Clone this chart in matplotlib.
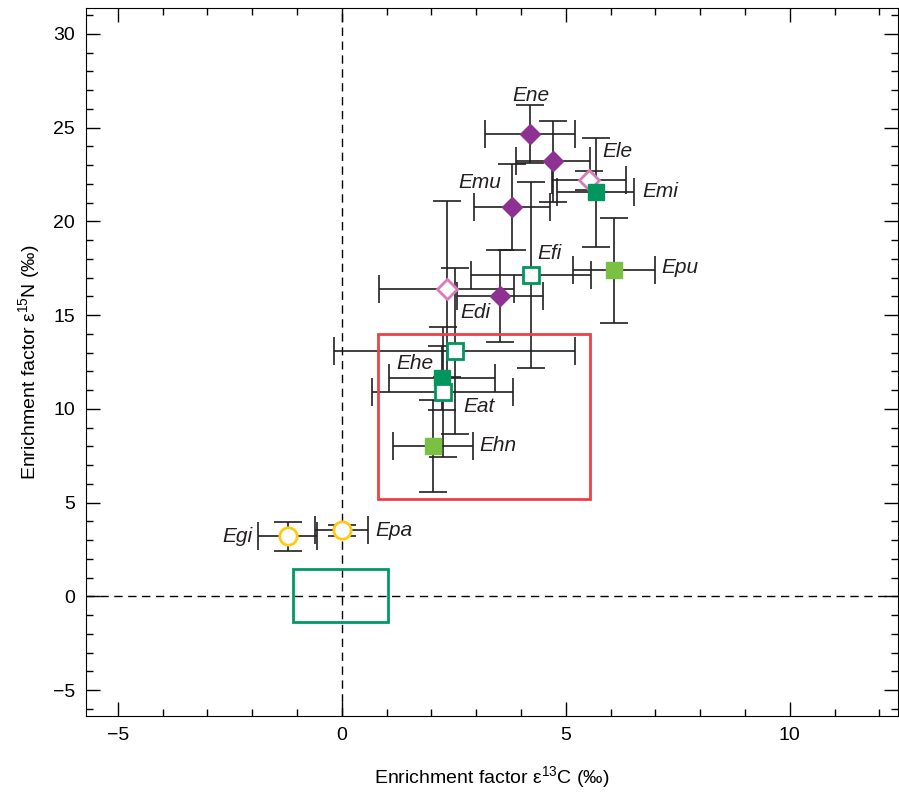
import matplotlib
matplotlib.use("Agg")
import matplotlib.pyplot as plt
from matplotlib.patches import Rectangle
from matplotlib.ticker import MultipleLocator

plt.rcParams['font.family'] = ['Liberation Sans', 'DejaVu Sans']
plt.rcParams['mathtext.fontset'] = 'custom'
plt.rcParams['mathtext.rm'] = 'Liberation Sans'
plt.rcParams['mathtext.it'] = 'Liberation Sans:italic'

# data: enrichment factors (per mil) with errors
purple_x = [4.20, 4.71, 3.79, 3.53]
purple_y = [24.65, 23.2, 20.76, 16.0]
purple_xerr = [1.0, 0.82, 0.85, 0.96]
purple_yerr = [1.55, 2.15, 2.3, 2.45]

pink_x = [5.51, 2.34]
pink_y = [22.2, 16.4]
pink_xerr = [0.83, 1.5]
pink_yerr = [0.5, 4.7]

dkgreen_x = [5.67, 2.23]
dkgreen_y = [21.56, 11.63]
dkgreen_xerr = [0.86, 1.18]
dkgreen_yerr = [2.9, 1.7]

open_green_x = [4.22, 2.52, 2.25]
open_green_y = [17.13, 13.07, 10.9]
open_green_xerr = [1.34, 2.69, 1.57]
open_green_yerr = [4.95, 4.43, 3.45]

ltgreen_x = [6.07, 2.03]
ltgreen_y = [17.4, 8.0]
ltgreen_xerr = [0.92, 0.89]
ltgreen_yerr = [2.8, 2.45]

yellow_x = [-1.21, 0.0]
yellow_y = [3.2, 3.52]
yellow_xerr = [0.66, 0.59]
yellow_yerr = [0.77, 0.3]

labels = ['Ene', 'Ele', 'Emi', 'Emu', 'Efi', 'Epu', 'Edi', 'Ehe', 'Eat', 'Ehn', 'Egi', 'Epa']
label_x = [4.22, 6.14, 7.1, 3.08, 4.64, 7.54, 2.99, 1.63, 3.06, 3.48, -2.32, 1.16]
label_y = [26.7, 23.75, 21.6, 22.1, 18.3, 17.55, 15.15, 12.43, 10.1, 8.06, 3.2, 3.52]

# boxes (x0, x1, y0, y1)
red_box = [0.8, 5.55, 5.2, 14.0]
green_box = [-1.08, 1.03, -1.38, 1.45]

fig = plt.figure(figsize=(8.99, 7.93), dpi=100)
ax = fig.add_axes([0.0957, 0.097, 0.903, 0.893])

ax.axvline(0, color='black', lw=1, ls=(0, (6, 4)), zorder=1)
ax.axhline(0, color='black', lw=1, ls=(0, (6, 4)), zorder=1)

ax.add_patch(Rectangle((red_box[0], red_box[2]), red_box[1] - red_box[0], red_box[3] - red_box[2],
                       fill=False, edgecolor='#EF4048', lw=2, zorder=4))
ax.add_patch(Rectangle((green_box[0], green_box[2]), green_box[1] - green_box[0], green_box[3] - green_box[2],
                       fill=False, edgecolor='#009966', lw=2, zorder=4))


def draw(xs, ys, xe, ye, marker, ms, face, edge, mew=1):
    ax.errorbar(xs, ys, xerr=xe, yerr=ye, fmt='none', ecolor='#231F20', elinewidth=1.2,
                capsize=10, capthick=1.2, zorder=2)
    ax.plot(xs, ys, ls='none', marker=marker, ms=ms, mfc=face, mec=edge, mew=mew, zorder=3)


draw(purple_x, purple_y, purple_xerr, purple_yerr, 'D', 10.5, '#8E3192', '#8E3192')
draw(pink_x, pink_y, pink_xerr, pink_yerr, 'D', 10.5, 'white', '#D57DB7', 2)
draw(dkgreen_x, dkgreen_y, dkgreen_xerr, dkgreen_yerr, 's', 11, '#00965E', '#00965E')
draw(open_green_x, open_green_y, open_green_xerr, open_green_yerr, 's', 11, 'white', '#00965E', 2)
draw(ltgreen_x, ltgreen_y, ltgreen_xerr, ltgreen_yerr, 's', 11, '#7AC143', '#7AC143')
draw(yellow_x, yellow_y, yellow_xerr, yellow_yerr, 'o', 12.5, 'white', '#FFC915', 2)

for name, lx, ly in zip(labels, label_x, label_y):
    ax.text(lx, ly, name, style='italic', fontsize=15, ha='center', va='center', color='#231F20')

ax.set_xlim(-5.71, 12.41)
ax.set_ylim(-6.39, 31.39)
ax.xaxis.set_major_locator(MultipleLocator(5))
ax.xaxis.set_minor_locator(MultipleLocator(1))
ax.yaxis.set_major_locator(MultipleLocator(5))
ax.yaxis.set_minor_locator(MultipleLocator(1))
ax.tick_params(which='both', direction='in', top=True, right=True, labelsize=14, pad=8)
ax.tick_params(which='major', length=10, width=1)
ax.tick_params(which='minor', length=5, width=1)
ax.set_xticks([-5, 0, 5, 10])
ax.set_xticklabels(['\u22125', '0', '5', '10'])
ax.set_yticks([-5, 0, 5, 10, 15, 20, 25, 30])
ax.set_yticklabels(['\u22125', '0', '5', '10', '15', '20', '25', '30'])

ax.set_xlabel('Enrichment factor \u03b5$^{13}$C (\u2030)', fontsize=14, labelpad=14)
ax.set_ylabel('Enrichment factor \u03b5$^{15}$N (\u2030)', fontsize=14, labelpad=8)

fig.savefig('out.png', dpi=100)
